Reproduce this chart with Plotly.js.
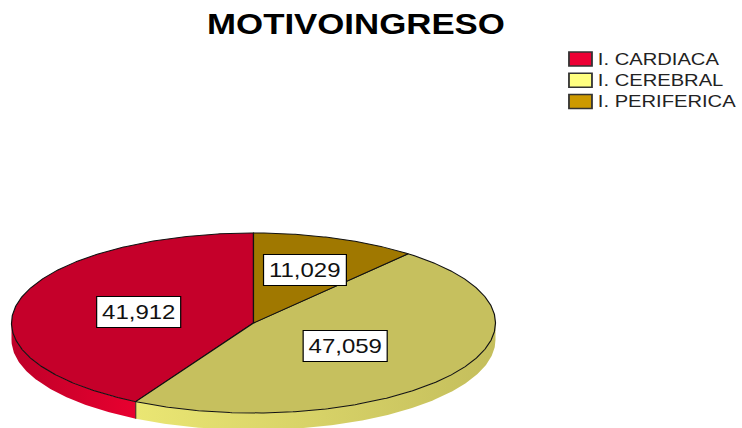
<!DOCTYPE html>
<html>
<head>
<meta charset="utf-8">
<script src="https://cdn.plot.ly/plotly-3.0.1.min.js"></script>
<style>
  html, body { margin: 0; padding: 0; background: #fff; overflow: hidden; }
  /* the chart is laid out narrow and widened horizontally, like the exported SPSS figure */
  #chart { width: 618px; height: 428px; transform-origin: 0 0; transform: scaleX(1.2006); }
</style>
</head>
<body>
<div id="chart"></div>
<script>
// Motivo de ingreso (porcentaje)
const categories = ['I. CARDIACA', 'I. CEREBRAL', 'I. PERIFERICA'];
const percents = [41.912, 47.059, 11.029];

// colours
const topColors = ['#C5002A', '#C6C05E', '#A07800'];
const sideColors = [['#BE0029', '#E8002F'], ['#EAE673', '#C4BE5C'], ['#8C6800', '#B08700']];
const legendColors = ['#ED0034', '#FFFF80', '#CC9900'];
const labelRadius = [0.49, 0.46, 0.63];

// pie geometry (axis units equal output pixels)
const W = 742, H = 428;
const CX = 253.5, CY = 323, RX = 242, RY = 90, DEPTH = 17;

function pt(a, dy) {
  const r = a * Math.PI / 180;
  return [CX + RX * Math.cos(r), CY - RY * Math.sin(r) + (dy || 0)];
}
function arc(a1, a2, dy) {
  const n = Math.max(2, Math.ceil(Math.abs(a2 - a1) * 2));
  const out = [];
  for (let k = 0; k <= n; k++) out.push(pt(a1 + (a2 - a1) * k / n, dy));
  return out;
}

const total = percents.reduce((s, v) => s + v, 0);
const slices = [];
let start = 90;
percents.forEach((p, i) => {
  const a1 = start, a2 = start + p / total * 360;
  slices.push({ i, a1, a2 });
  start = a2;
});

const traces = [];

// visible rim (front half of the disc)
slices.forEach(s => {
  [[180, 360], [540, 720]].forEach(([lo, hi]) => {
    const b1 = Math.max(s.a1, lo), b2 = Math.min(s.a2, hi);
    if (b2 <= b1) return;
    const upper = arc(b1, b2, 0);
    const lower = arc(b2, b1, DEPTH);
    const poly = upper.concat(lower);
    poly.push(upper[0]);
    traces.push({
      type: 'scatter', mode: 'lines', fill: 'toself',
      x: poly.map(q => q[0]), y: poly.map(q => q[1]),
      line: { width: 0, color: topColors[s.i] },
      fillcolor: sideColors[s.i][0],
      fillgradient: { type: 'horizontal', colorscale: [[0, sideColors[s.i][0]], [1, sideColors[s.i][1]]] },
      hoverinfo: 'skip', showlegend: false
    });
  });
});

// rim seams between slices
slices.forEach(s => {
  const a = ((s.a1 % 360) + 360) % 360;
  if (a > 180 && a < 360) {
    const p0 = pt(s.a1, 0), p1 = pt(s.a1, DEPTH);
    traces.push({
      type: 'scatter', mode: 'lines',
      x: [p0[0], p1[0]], y: [p0[1], p1[1]],
      line: { width: 1, color: 'rgba(0,0,0,0.65)' },
      hoverinfo: 'skip', showlegend: false
    });
  }
});

// top faces
slices.forEach(s => {
  const poly = [[CX, CY]].concat(arc(s.a1, s.a2, 0));
  poly.push([CX, CY]);
  traces.push({
    type: 'scatter', mode: 'lines', fill: 'toself',
    x: poly.map(q => q[0]), y: poly.map(q => q[1]),
    line: { width: 1, color: '#111' },
    fillcolor: topColors[s.i],
    name: categories[s.i],
    hoverinfo: 'skip', showlegend: false
  });
});

const annotations = [];
// value boxes
slices.forEach(s => {
  const mid = (s.a1 + s.a2) / 2;
  const r = mid * Math.PI / 180, f = labelRadius[s.i];
  annotations.push({
    x: CX + RX * f * Math.cos(r), y: CY - RY * f * Math.sin(r),
    xref: 'x', yref: 'y', showarrow: false,
    text: percents[s.i].toFixed(3).replace('.', ','),
    font: { family: 'Liberation Sans, Arial, sans-serif', size: 20, color: '#111' },
    bgcolor: '#fff', bordercolor: '#000', borderwidth: 1, borderpad: 4
  });
});

// legend
const shapes = [];
categories.forEach((c, i) => {
  const yc = 59 + i * 21.3;
  shapes.push({
    type: 'rect', xref: 'x', yref: 'y',
    x0: 569, x1: 592, y0: yc - 7, y1: yc + 7,
    fillcolor: legendColors[i], line: { color: '#333', width: 1.5 }
  });
  annotations.push({
    x: 596, y: yc, xref: 'x', yref: 'y', xanchor: 'left', yanchor: 'middle',
    showarrow: false, text: c,
    font: { family: 'Liberation Sans, Arial, sans-serif', size: 16.8, color: '#222' }
  });
});

const layout = {
  width: 618, height: 428,
  margin: { l: 0, r: 0, t: 0, b: 0 },
  paper_bgcolor: '#fff', plot_bgcolor: '#fff',
  title: {
    text: '<b>MOTIVOINGRESO</b>',
    font: { family: 'Liberation Sans, Arial, sans-serif', size: 29, color: '#000' },
    xref: 'container', yref: 'container',
    x: (356 / 1.2006) / 618, xanchor: 'center',
    y: 1 - 24 / 428, yanchor: 'middle'
  },
  xaxis: { range: [0, W], visible: false, fixedrange: true },
  yaxis: { range: [H, 0], visible: false, fixedrange: true },
  showlegend: false,
  hovermode: false,
  annotations: annotations,
  shapes: shapes
};

Plotly.newPlot('chart', traces, layout, { staticPlot: true, displayModeBar: false });
</script>
</body>
</html>
